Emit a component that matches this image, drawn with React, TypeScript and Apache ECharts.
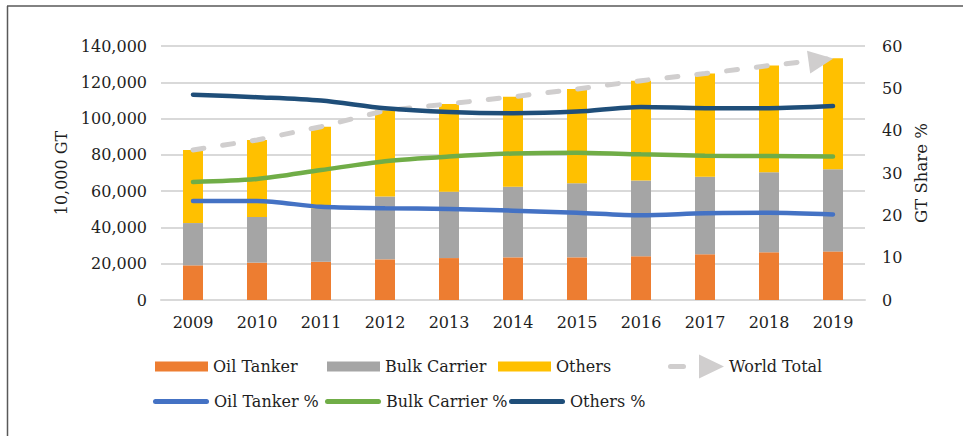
import React, { useEffect, useRef } from 'react';
import * as echarts from 'echarts';

const years = ['2009', '2010', '2011', '2012', '2013', '2014', '2015', '2016', '2017', '2018', '2019'];
const oilTanker = [19100, 20600, 21100, 22400, 23100, 23500, 23500, 24100, 25200, 26300, 26800];
const bulkCarrier = [23300, 25200, 29300, 34600, 36600, 38900, 40800, 41700, 42800, 44100, 45200];
const others = [40300, 42400, 45100, 47400, 48400, 49600, 52000, 55100, 56800, 58800, 61200];
const oilPct = [23.4, 23.4, 22.0, 21.7, 21.5, 21.1, 20.6, 20.0, 20.5, 20.6, 20.2];
const bulkPct = [27.9, 28.6, 30.7, 32.8, 33.9, 34.6, 34.8, 34.4, 34.1, 34.0, 33.9];
const othersPct = [48.5, 47.9, 47.1, 45.3, 44.4, 44.1, 44.5, 45.6, 45.3, 45.3, 45.8];
const leftTicks = { min: 0, max: 140000, interval: 20000 };
const rightTicks = { min: 0, max: 60, interval: 10 };

const FONT = 'DejaVu Serif';
const TXT = '#1E1E1E';
const C = {
  oil: '#ED7D31',
  bulk: '#A5A5A5',
  others: '#FFC000',
  world: '#D0CECE',
  oilPct: '#4472C4',
  bulkPct: '#70AD47',
  othersPct: '#1F4E79',
};

const capsule = 'path://M2.5,0 H53.5 A2.5,2.5 0 0 1 53.5,5 H2.5 A2.5,2.5 0 0 1 2.5,0 Z';
const worldIcon =
  'path://M2.5,9.5 H15.5 A2.5,2.5 0 0 1 15.5,14.5 H2.5 A2.5,2.5 0 0 1 2.5,9.5 Z M31,0 L56,12 L31,24 Z';

function legendItem(name: string, left: number, top: number, icon: string, w: number, h: number, color: string) {
  return {
    show: true,
    left,
    top,
    padding: 0,
    itemGap: 0,
    itemWidth: w,
    itemHeight: h,
    selectedMode: false,
    orient: 'horizontal',
    data: [{ name, icon, itemStyle: { color, borderWidth: 0 } }],
    textStyle: { fontFamily: FONT, fontSize: 16, color: TXT, lineHeight: 20 },
  };
}

export default function App() {
  const ref = useRef<HTMLDivElement>(null);
  useEffect(() => {
    document.body.style.margin = '0';
    const chart = echarts.init(ref.current!, null, { renderer: 'svg' });
    const totals = years.map((_, i) => oilTanker[i] + bulkCarrier[i] + others[i]);
    const last = totals.length - 1;
    const lineBase = {
      type: 'line',
      yAxisIndex: 1,
      symbol: 'none',
      smooth: 0.3,
      silent: true,
      z: 5,
    };
    const option = {
      animation: false,
      textStyle: { fontFamily: FONT },
      grid: { left: 161, right: 98, top: 46, bottom: 136, containLabel: false },
      graphic: [
        { type: 'line', shape: { x1: 7.5, y1: 6, x2: 7.5, y2: 440 }, style: { stroke: '#595959', lineWidth: 1.5 } },
        { type: 'line', shape: { x1: 7, y1: 6, x2: 970, y2: 6 }, style: { stroke: '#595959', lineWidth: 1.5 } },
      ],
      legend: [
        legendItem('Oil Tanker', 155, 356.5, 'rect', 53, 10, C.oil),
        legendItem('Bulk Carrier', 327, 356.5, 'rect', 53, 10, C.bulk),
        legendItem('Others', 498, 356.5, 'rect', 53, 10, C.others),
        legendItem('World Total', 668, 354.5, worldIcon, 56, 24, C.world),
        legendItem('Oil Tanker %', 153, 391.5, capsule, 56, 5, C.oilPct),
        legendItem('Bulk Carrier %', 325, 391.5, capsule, 56, 5, C.bulkPct),
        legendItem('Others %', 509, 391.5, capsule, 56, 5, C.othersPct),
      ],
      xAxis: {
        type: 'category',
        data: years,
        axisLine: { show: true, lineStyle: { color: '#D9D9D9', width: 2 } },
        axisTick: { show: false },
        axisLabel: { fontFamily: FONT, fontSize: 16, color: TXT, margin: 14 },
      },
      yAxis: [
        {
          type: 'value',
          ...leftTicks,
          name: '10,000 GT',
          nameLocation: 'middle',
          nameRotate: 90,
          nameGap: 85,
          nameTextStyle: { fontFamily: FONT, fontSize: 16, color: TXT },
          axisLine: { show: false },
          axisTick: { show: false },
          axisLabel: {
            fontFamily: FONT,
            fontSize: 16,
            color: TXT,
            margin: 14,
            formatter: (v: number) => v.toLocaleString('en-US'),
          },
          splitLine: { show: true, lineStyle: { color: '#D9D9D9', width: 2 } },
        },
        {
          type: 'value',
          position: 'right',
          ...rightTicks,
          name: 'GT Share %',
          nameLocation: 'middle',
          nameRotate: 90,
          nameGap: 45,
          nameTextStyle: { fontFamily: FONT, fontSize: 16.5, color: TXT },
          axisLine: { show: false },
          axisTick: { show: false },
          axisLabel: { fontFamily: FONT, fontSize: 16, color: TXT, margin: 17 },
          splitLine: { show: false },
        },
      ],
      series: [
        { name: 'Oil Tanker', type: 'bar', stack: 'gt', barWidth: 20, data: oilTanker, itemStyle: { color: C.oil }, silent: true },
        { name: 'Bulk Carrier', type: 'bar', stack: 'gt', barWidth: 20, data: bulkCarrier, itemStyle: { color: C.bulk }, silent: true },
        { name: 'Others', type: 'bar', stack: 'gt', barWidth: 20, data: others, itemStyle: { color: C.others }, silent: true },
        {
          name: 'World Total',
          type: 'line',
          yAxisIndex: 0,
          symbol: 'none',
          silent: true,
          z: 4,
          itemStyle: { color: C.world },
          lineStyle: { color: C.world, width: 5, type: [11, 19], cap: 'round' },
          data: totals.map((v, i) =>
            i === last
              ? { value: v, symbol: 'triangle', symbolSize: [23, 25], symbolRotate: -82, symbolOffset: [-12, 2], itemStyle: { color: C.world } }
              : v
          ),
        },
        { ...lineBase, name: 'Oil Tanker %', data: oilPct, itemStyle: { color: C.oilPct }, lineStyle: { color: C.oilPct, width: 4.5, cap: 'round' } },
        { ...lineBase, name: 'Bulk Carrier %', data: bulkPct, itemStyle: { color: C.bulkPct }, lineStyle: { color: C.bulkPct, width: 4.5, cap: 'round' } },
        { ...lineBase, name: 'Others %', data: othersPct, itemStyle: { color: C.othersPct }, lineStyle: { color: C.othersPct, width: 4.5, cap: 'round' } },
      ],
    };
    chart.setOption(option as any);
    return () => chart.dispose();
  }, []);
  return <div ref={ref} style={{ width: 963, height: 436, position: 'absolute', left: 0, top: 0 }} />;
}
